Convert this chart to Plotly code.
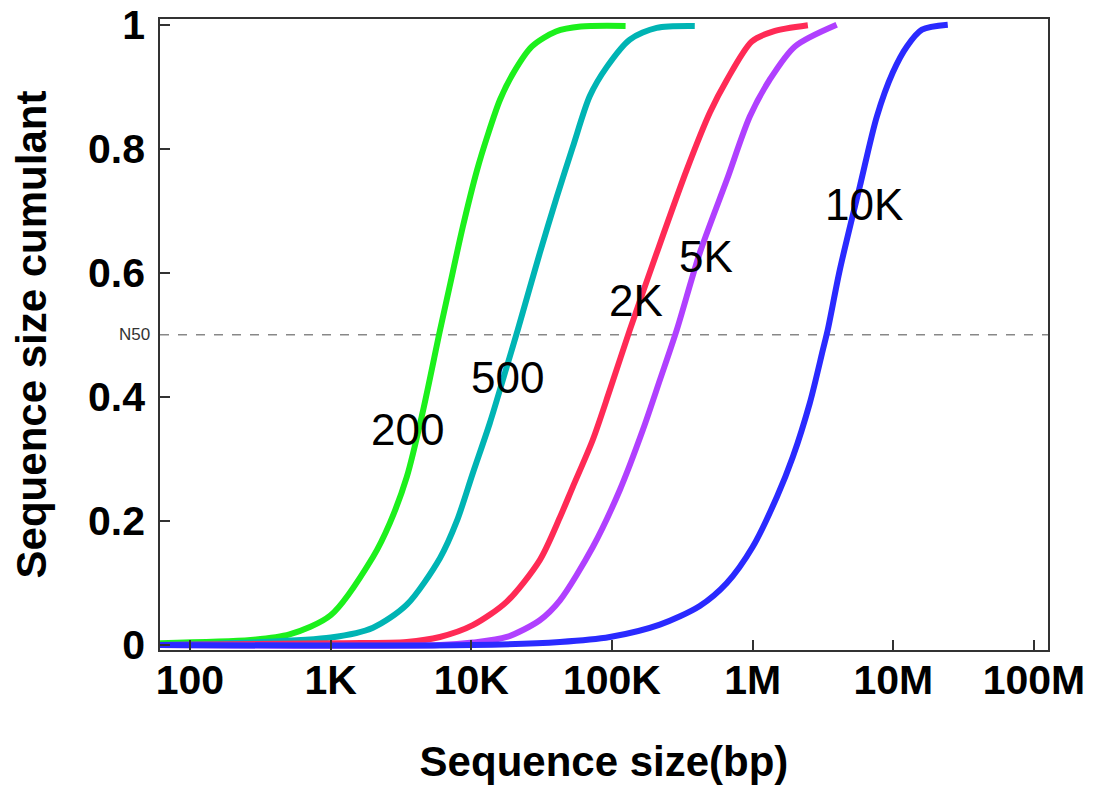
import math
import plotly.graph_objects as go

# ---- data ----
x_200 = [60, 270, 510, 1000, 2000, 2640, 3480, 4500, 6000, 7000, 8700, 11000, 13000, 16000, 20000, 27000, 40000, 60000, 125000]
y_200 = [0.003, 0.008, 0.017, 0.048, 0.142, 0.197, 0.271, 0.374, 0.508, 0.577, 0.674, 0.766, 0.82, 0.879, 0.923, 0.965, 0.989, 0.997, 0.998]

x_500 = [60, 267, 1004, 2000, 3480, 5985, 7900, 10250, 13550, 17900, 21400, 30700, 40600, 52700, 69600, 92000, 134000, 208000, 388000]
y_500 = [0.0, 0.004, 0.012, 0.028, 0.065, 0.14, 0.2, 0.277, 0.358, 0.449, 0.508, 0.632, 0.723, 0.803, 0.885, 0.932, 0.976, 0.995, 0.998]

x_2k = [60, 1164, 3480, 5985, 10250, 17900, 30700, 42700, 52700, 73100, 96600, 134000, 208000, 340000, 496000, 656000, 987000, 1390000, 2470000]
y_2k = [0.0, 0.003, 0.005, 0.013, 0.032, 0.07, 0.137, 0.206, 0.255, 0.331, 0.411, 0.508, 0.632, 0.766, 0.858, 0.911, 0.973, 0.989, 0.999]

x_5k = [60, 5985, 10250, 17900, 30700, 42700, 73100, 113800, 166000, 219000, 289000, 421000, 656000, 955000, 1320000, 2000000, 3960000]
y_5k = [0.0, 0.0, 0.004, 0.013, 0.04, 0.072, 0.158, 0.25, 0.347, 0.427, 0.508, 0.632, 0.75, 0.852, 0.911, 0.965, 1.0]

x_10k = [60, 10250, 42700, 96600, 219000, 421000, 656000, 1000000, 1490000, 1930000, 2550000, 3160000, 3420000, 4170000, 5780000, 7640000, 9920000, 12500000, 16000000, 24400000]
y_10k = [0.0, 0.0, 0.005, 0.013, 0.033, 0.063, 0.1, 0.158, 0.239, 0.303, 0.39, 0.476, 0.508, 0.605, 0.739, 0.852, 0.923, 0.965, 0.992, 1.0]

series_names = ["200", "500", "2K", "5K", "10K"]
series_x = [x_200, x_500, x_2k, x_5k, x_10k]
series_y = [y_200, y_500, y_2k, y_5k, y_10k]
series_colors = ["#1cf01c", "#00b4b4", "#ff2a55", "#b040ff", "#2a2aff"]

label_x = [3540, 18200, 148000, 464000, 6170000]
label_y = [0.347, 0.431, 0.556, 0.627, 0.71]

x_tickvals = [100, 1e3, 1e4, 1e5, 1e6, 1e7, 1e8]
x_ticktext = ["100", "1K", "10K", "100K", "1M", "10M", "100M"]
y_tickvals = [0, 0.2, 0.4, 0.6, 0.8, 1]
y_ticktext = ["0", "0.2", "0.4", "0.6", "0.8", "1"]
n50_level = 0.5

FONT = "Liberation Sans, Arial, Helvetica, sans-serif"

fig = go.Figure()
for name, xs, ys, c in zip(series_names, series_x, series_y, series_colors):
    fig.add_trace(go.Scatter(x=xs, y=ys, mode="lines", name=name,
                             line=dict(color=c, width=6, shape="spline", smoothing=0.8),
                             showlegend=False))

fig.add_shape(type="line", xref="paper", yref="y", x0=0, x1=1, y0=n50_level, y1=n50_level,
              line=dict(color="#888888", width=1.5, dash="dash"), layer="below")
fig.add_annotation(xref="paper", yref="y", x=0, y=n50_level, text="N50", showarrow=False,
                   xanchor="right", xshift=-8, font=dict(family=FONT, size=17, color="#333333"))

for name, lx, ly in zip(series_names, label_x, label_y):
    fig.add_annotation(x=math.log10(lx), y=ly, xref="x", yref="y", text=name, showarrow=False,
                       font=dict(family=FONT, size=44, color="black"))

fig.update_layout(
    width=1091, height=779,
    paper_bgcolor="white", plot_bgcolor="white",
    margin=dict(l=152, r=51, t=11, b=137, autoexpand=False),
    font=dict(family=FONT, color="black"),
    xaxis=dict(type="log", range=[1.787, 8.10], tickvals=x_tickvals, ticktext=x_ticktext,
               ticks="inside", ticklen=10, tickwidth=1.5, tickcolor="#333",
               showline=True, linecolor="#333", linewidth=1.5, mirror=True,
               showgrid=False, zeroline=False, automargin=False, ticklabelstandoff=-7,
               ticklabeloverflow="allow",
               tickfont=dict(family=FONT, size=41, weight="bold", color="black"),
               title=dict(text="Sequence size(bp)", standoff=45,
                          font=dict(family=FONT, size=42, weight="bold", color="black"))),
    yaxis=dict(range=[-0.008, 1.0092], tickvals=y_tickvals, ticktext=y_ticktext,
               ticks="inside", ticklen=10, tickwidth=1.5, tickcolor="#333",
               showline=True, linecolor="#333", linewidth=1.5, mirror=True,
               showgrid=False, zeroline=False, automargin=False, ticklabelstandoff=5,
               ticklabeloverflow="allow",
               tickfont=dict(family=FONT, size=41, weight="bold", color="black"),
               title=dict(text="Sequence size cumulant", standoff=28,
                          font=dict(family=FONT, size=42, weight="bold", color="black"))),
)

fig.write_html("out.html")
